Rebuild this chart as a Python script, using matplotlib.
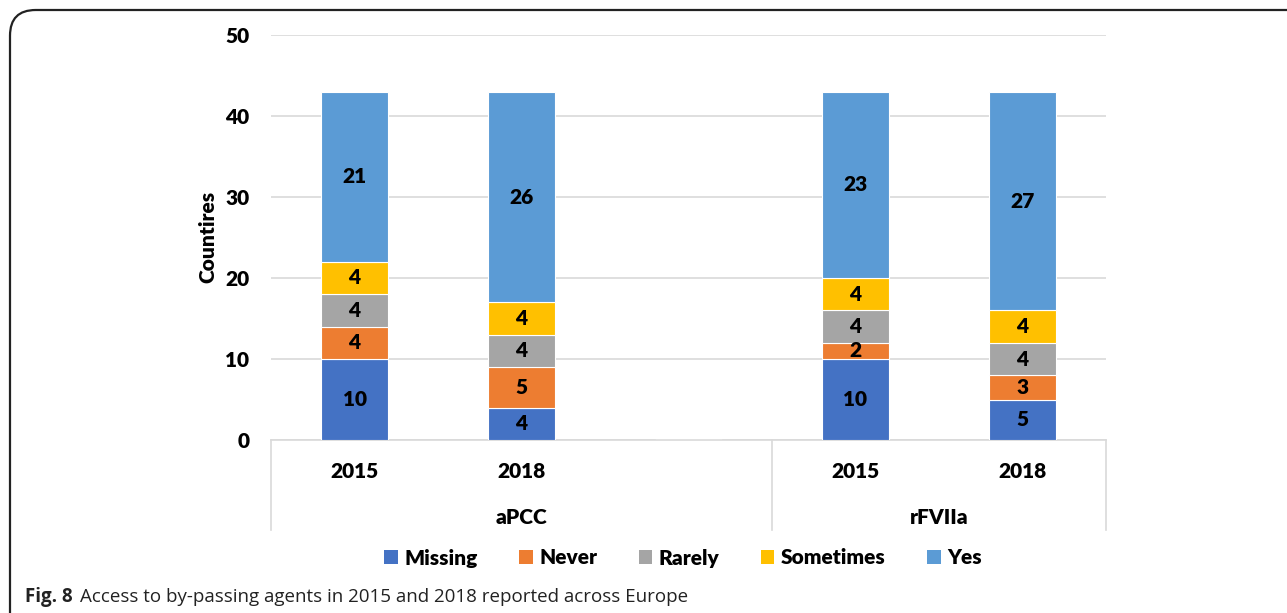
import matplotlib.pyplot as plt
from matplotlib.patches import FancyBboxPatch, Patch
from matplotlib.lines import Line2D
import matplotlib.transforms as mtransforms
import numpy as np

plt.rcParams['font.family'] = ['Lato', 'DejaVu Sans']
peso = 'heavy'

# datos (el hueco vacio entre grupos va como categoria en blanco)
anios = ['2015', '2018', '', '2015', '2018']
grupos = ['aPCC', 'rFVIIa']
series = ['Missing', 'Never', 'Rarely', 'Sometimes', 'Yes']
missing   = [10, 4, 0, 10, 5]
never     = [4, 5, 0, 2, 3]
rarely    = [4, 4, 0, 4, 4]
sometimes = [4, 4, 0, 4, 4]
yes       = [21, 26, 0, 23, 27]
colores = ['#4472C4', '#ED7D31', '#A5A5A5', '#FFC000', '#5B9BD5']

W, H = 1287, 613
fig = plt.figure(figsize=(W / 100, H / 100), dpi=100)

# marco redondeado que se corta a la derecha y abajo
marco = FancyBboxPatch((10 / W, -0.05), 1.2, 1.05 - 10 / H,
                       boxstyle='round,pad=0,rounding_size=0.02',
                       transform=fig.transFigure, fill=False,
                       edgecolor='#222222', linewidth=1.6, mutation_aspect=W / H)
fig.patches.append(marco)

ax = fig.add_axes([271 / W, 173 / H, 835 / W, 405 / H])

x = np.arange(len(anios))
base = np.zeros(len(anios))
for nombre, vals, col in zip(series, [missing, never, rarely, sometimes, yes], colores):
    vals = np.array(vals, dtype=float)
    ax.bar(x, vals, width=0.4, bottom=base, color=col, edgecolor='white',
           linewidth=0.8, label=nombre, zorder=3)
    for xi, b, v in zip(x, base, vals):
        if v > 0:
            ax.text(xi, b + v / 2, str(int(v)), ha='center', va='center',
                    fontsize=15, fontweight=peso, color='black', zorder=4)
    base += vals

ax.set_xlim(-0.5, 4.5)
ax.set_ylim(0, 50)
ax.set_yticks(np.arange(0, 51, 10))
ax.yaxis.grid(True, color='#D9D9D9', linewidth=1.2, zorder=0)
ax.set_axisbelow(True)
for lado in ['top', 'right', 'left']:
    ax.spines[lado].set_visible(False)
ax.spines['bottom'].set_color('#D9D9D9')
ax.spines['bottom'].set_linewidth(1.2)
ax.tick_params(axis='y', length=0, pad=15.5, labelsize=15)
ax.tick_params(axis='x', length=0)
ax.set_xticks([])
for lbl in ax.get_yticklabels():
    lbl.set_fontweight(peso)

# etiquetas de categorias en dos niveles
trans = mtransforms.blended_transform_factory(ax.transData, ax.transAxes)
for xi, a in zip(x, anios):
    if a:
        ax.text(xi, -31 / 405, a, transform=trans, ha='center', va='center',
                fontsize=15, fontweight=peso)
ax.text(1, -77 / 405, grupos[0], transform=trans, ha='center', va='center',
        fontsize=15, fontweight=peso)
ax.text(3.5, -77 / 405, grupos[1], transform=trans, ha='center', va='center',
        fontsize=15, fontweight=peso)
for xs in [-0.5, 2.5, 4.5]:
    ax.add_line(Line2D([xs, xs], [0, -90 / 405], transform=trans, color='#D9D9D9',
                       linewidth=1.2, clip_on=False))

fig.text(208 / W, 1 - 237 / H, 'Countires', rotation=90, ha='center', va='center',
         fontsize=15, fontweight=peso)

handles = [Patch(facecolor=c, edgecolor='none') for c in colores]
fig.legend(handles, series, loc='center', bbox_to_anchor=(683 / W, 1 - 558 / H),
           ncol=5, frameon=False, handlelength=0.65, handleheight=0.65,
           handletextpad=0.3, columnspacing=2.0,
           prop={'size': 15, 'weight': peso})

fig.text(25 / W, 1 - 597 / H, 'Fig. 8', ha='left', va='center', fontsize=13.5,
         fontweight='bold', family=['Open Sans', 'DejaVu Sans'], color='#222222')
fig.text(80 / W, 1 - 597 / H, 'Access to by-passing agents in 2015 and 2018 reported across Europe',
         ha='left', va='center', fontsize=13.5, family=['Open Sans', 'DejaVu Sans'],
         color='#222222')

fig.savefig('out.png', dpi=100)
